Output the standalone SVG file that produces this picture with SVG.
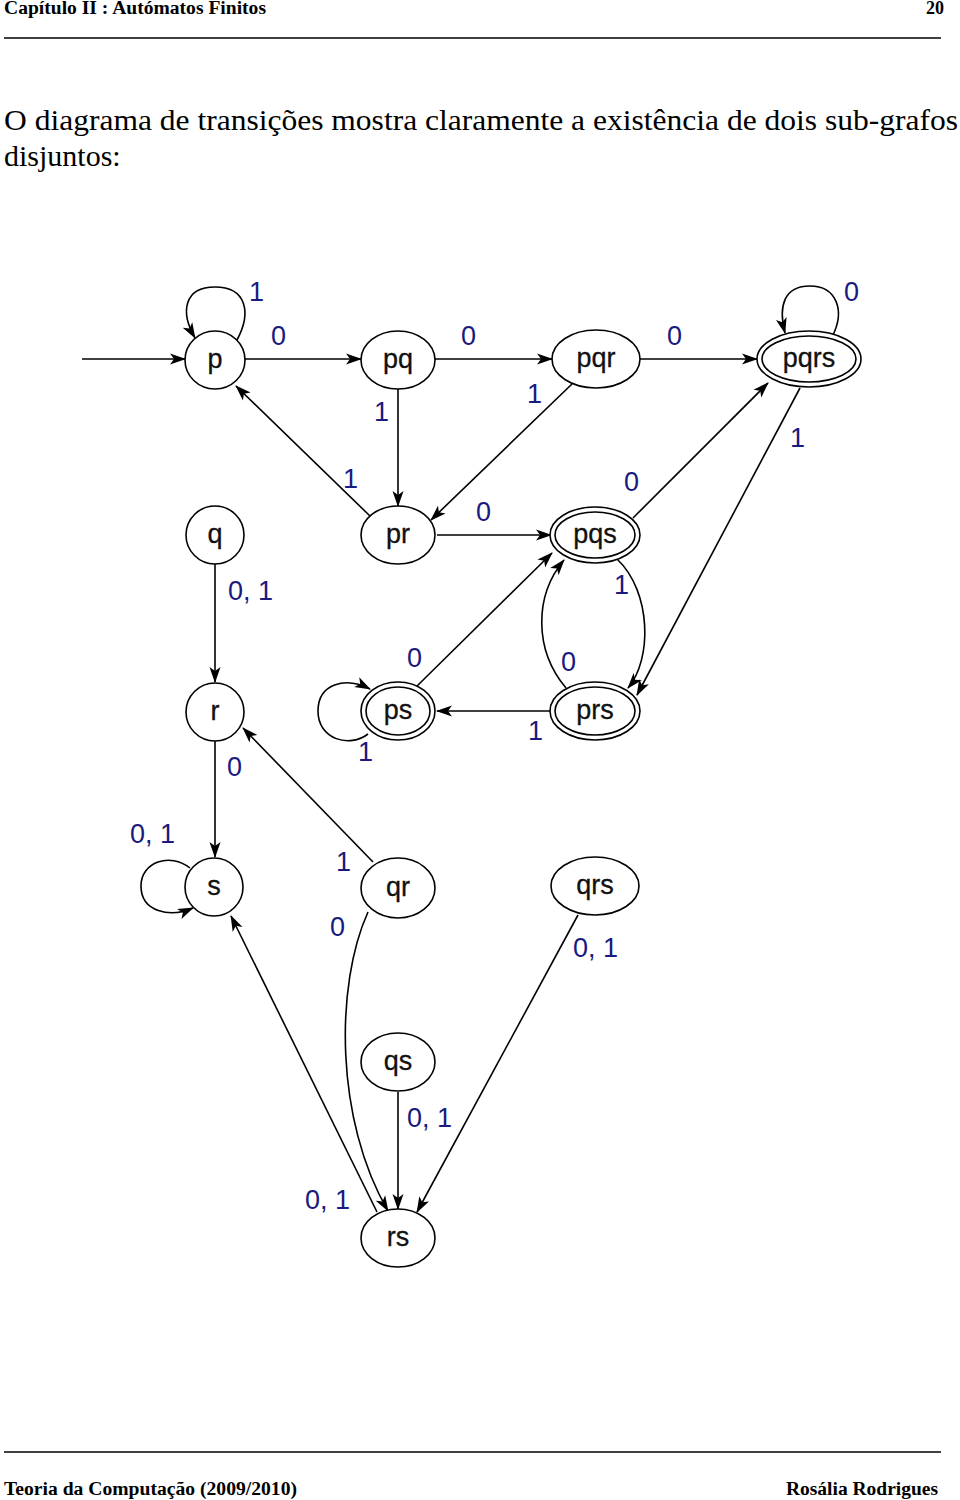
<svg xmlns="http://www.w3.org/2000/svg" width="960" height="1500" viewBox="0 0 960 1500">
<defs>
<marker id="ah" markerWidth="16" markerHeight="12" refX="15" refY="6" orient="auto" markerUnits="userSpaceOnUse">
<path d="M0,0.5 L16,6 L0,11.5 L4,6 z" fill="#000"/>
</marker>
<style>
.hd{font-family:"Liberation Serif","Times New Roman",serif;font-weight:bold;font-size:18px;fill:#000}
.pg{font-family:"Liberation Serif","Times New Roman",serif;font-size:30px;fill:#000}
.n{fill:#fff;stroke:#000;stroke-width:1.6}
.nt{font-family:"Liberation Sans",Arial,sans-serif;font-size:27px;fill:#111;text-anchor:middle;stroke:#111;stroke-width:0.3}
.lb{font-family:"Liberation Sans",Arial,sans-serif;font-size:27px;fill:#1a1a80}
.e{fill:none;stroke:#000;stroke-width:1.6;marker-end:url(#ah)}
.rl{stroke:#000;stroke-width:1.3}
</style>
</defs>
<rect width="960" height="1500" fill="#fff"/>
<g id="header">
<text class="hd" x="4" y="14" textLength="262" lengthAdjust="spacingAndGlyphs">Capítulo II : Autómatos Finitos</text>
<text class="hd" x="944" y="14" text-anchor="end">20</text>
<line class="rl" x1="4" y1="38" x2="941" y2="38"/>
<text class="pg" x="4" y="130" textLength="954" lengthAdjust="spacingAndGlyphs">O diagrama de transições mostra claramente a existência de dois sub-grafos</text>
<text class="pg" x="4" y="166">disjuntos:</text>
</g>
<g id="connectors">
<line class="e" x1="82" y1="359" x2="185" y2="359"/>
<path class="e" d="M237,340 C252,312 246,287 215,287 C184,287 180,312 195,338"/>
<line class="e" x1="245" y1="359" x2="361" y2="359"/>
<line class="e" x1="435" y1="359" x2="552" y2="359"/>
<line class="e" x1="640" y1="359" x2="757" y2="359"/>
<path class="e" d="M832,337 C846,310 836,286 810,286 C784,286 778,306 785,333"/>
<line class="e" x1="398" y1="389" x2="398" y2="506"/>
<line class="e" x1="370" y1="516" x2="236" y2="386"/>
<line class="e" x1="572" y1="384" x2="431" y2="520"/>
<line class="e" x1="437" y1="535" x2="551" y2="535"/>
<line class="e" x1="633" y1="518" x2="768" y2="383"/>
<line class="e" x1="800" y1="388" x2="637" y2="695"/>
<path class="e" d="M617,559 C652,592 652,660 628,688"/>
<path class="e" d="M566,688 C534,650 534,596 564,560"/>
<line class="e" x1="415" y1="688" x2="552" y2="553"/>
<line class="e" x1="550" y1="711" x2="437" y2="711"/>
<path class="e" d="M368,734 C350,748 318,740 318,711 C318,684 345,676 370,689"/>
<line class="e" x1="215" y1="564" x2="215" y2="682"/>
<line class="e" x1="215" y1="741" x2="215" y2="857"/>
<path class="e" d="M190,868 C170,852 141,862 141,886 C141,912 170,918 193,908"/>
<line class="e" x1="373" y1="862" x2="243" y2="728"/>
<path class="e" d="M368,912 C335,985 335,1120 388,1211"/>
<line class="e" x1="377" y1="1212" x2="231" y2="916"/>
<line class="e" x1="398" y1="1092" x2="398" y2="1209"/>
<line class="e" x1="578" y1="915" x2="417" y2="1212"/>
</g>
<g id="labels">
<text class="lb" x="249" y="301">1</text>
<text class="lb" x="271" y="345">0</text>
<text class="lb" x="461" y="345">0</text>
<text class="lb" x="667" y="345">0</text>
<text class="lb" x="844" y="301">0</text>
<text class="lb" x="374" y="421">1</text>
<text class="lb" x="527" y="403">1</text>
<text class="lb" x="343" y="488">1</text>
<text class="lb" x="476" y="521">0</text>
<text class="lb" x="624" y="491">0</text>
<text class="lb" x="790" y="447">1</text>
<text class="lb" x="614" y="594">1</text>
<text class="lb" x="561" y="671">0</text>
<text class="lb" x="407" y="667">0</text>
<text class="lb" x="528" y="740">1</text>
<text class="lb" x="358" y="761">1</text>
<text class="lb" x="228" y="600">0, 1</text>
<text class="lb" x="227" y="776">0</text>
<text class="lb" x="130" y="843">0, 1</text>
<text class="lb" x="336" y="871">1</text>
<text class="lb" x="330" y="936">0</text>
<text class="lb" x="305" y="1209">0, 1</text>
<text class="lb" x="407" y="1127">0, 1</text>
<text class="lb" x="573" y="957">0, 1</text>
</g>
<g id="node-p"><ellipse class="n" cx="215" cy="360" rx="30" ry="29"/><text class="nt" x="215" y="368">p</text></g>
<g id="node-pq"><ellipse class="n" cx="398" cy="360" rx="37" ry="29"/><text class="nt" x="398" y="368">pq</text></g>
<g id="node-pqr"><ellipse class="n" cx="596" cy="359" rx="44" ry="29"/><text class="nt" x="596" y="367">pqr</text></g>
<g id="node-pqrs"><ellipse class="n" cx="809" cy="359" rx="52" ry="28"/><ellipse class="n" cx="809" cy="359" rx="47" ry="23"/><text class="nt" x="809" y="367">pqrs</text></g>
<g id="node-q"><ellipse class="n" cx="215" cy="535" rx="29" ry="29"/><text class="nt" x="215" y="543">q</text></g>
<g id="node-pr"><ellipse class="n" cx="398" cy="535" rx="37" ry="29"/><text class="nt" x="398" y="543">pr</text></g>
<g id="node-pqs"><ellipse class="n" cx="595" cy="535" rx="45" ry="28"/><ellipse class="n" cx="595" cy="535" rx="40" ry="23"/><text class="nt" x="595" y="543">pqs</text></g>
<g id="node-r"><ellipse class="n" cx="215" cy="712" rx="29" ry="29"/><text class="nt" x="215" y="720">r</text></g>
<g id="node-ps"><ellipse class="n" cx="398" cy="711" rx="37" ry="29"/><ellipse class="n" cx="398" cy="711" rx="32" ry="24"/><text class="nt" x="398" y="719">ps</text></g>
<g id="node-prs"><ellipse class="n" cx="595" cy="711" rx="45" ry="29"/><ellipse class="n" cx="595" cy="711" rx="40" ry="24"/><text class="nt" x="595" y="719">prs</text></g>
<g id="node-s"><ellipse class="n" cx="214" cy="887" rx="29" ry="29"/><text class="nt" x="214" y="895">s</text></g>
<g id="node-qr"><ellipse class="n" cx="398" cy="888" rx="37" ry="30"/><text class="nt" x="398" y="896">qr</text></g>
<g id="node-qrs"><ellipse class="n" cx="595" cy="886" rx="44" ry="29"/><text class="nt" x="595" y="894">qrs</text></g>
<g id="node-qs"><ellipse class="n" cx="398" cy="1062" rx="37" ry="29"/><text class="nt" x="398" y="1070">qs</text></g>
<g id="node-rs"><ellipse class="n" cx="398" cy="1238" rx="37" ry="29"/><text class="nt" x="398" y="1246">rs</text></g>
<g id="footer">
<line class="rl" x1="4" y1="1452" x2="941" y2="1452"/>
<text class="hd" x="4" y="1495" textLength="293" lengthAdjust="spacingAndGlyphs">Teoria da Computação (2009/2010)</text>
<text class="hd" x="938" y="1495" text-anchor="end" textLength="152" lengthAdjust="spacingAndGlyphs">Rosália Rodrigues</text>
</g>
</svg>
